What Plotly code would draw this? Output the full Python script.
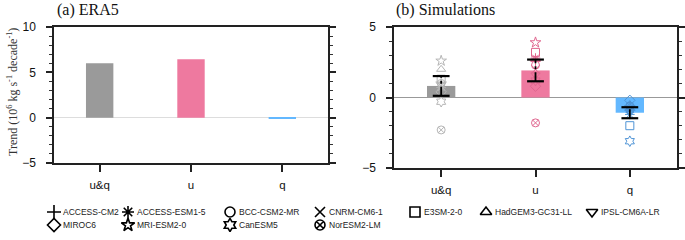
import plotly.graph_objects as go

# ---------------- data ----------------
categories = ["u&q", "u", "q"]
era5_values = [6.0, 6.45, -0.08]
sim_mean = [0.82, 1.92, -1.08]
sim_err = [0.70, 0.77, 0.39]

models = ["ACCESS-CM2", "ACCESS-ESM1-5", "BCC-CSM2-MR", "CNRM-CM6-1", "E3SM-2-0",
          "HadGEM3-GC31-LL", "IPSL-CM6A-LR", "MIROC6", "MRI-ESM2-0", "CanESM5", "NorESM2-LM"]
model_uq = [1.1, 0.7, 1.0, 0.8, 1.3, 2.0, 0.9, 0.4, 2.6, -0.3, -2.3]
model_u = [2.6, 2.8, 2.3, 2.0, 3.2, 2.7, 1.6, 0.8, 3.9, 1.2, -1.8]
model_q = [-0.9, -1.2, -0.6, -0.8, -2.0, -0.5, -1.0, -0.2, -0.7, -3.1, -0.9]

symbols = ["cross-thin-open", "asterisk-open", "circle-open", "x-thin-open", "square-open",
           "triangle-up-open", "triangle-down-open", "diamond-open", "star-open",
           "hexagram-open", "circle-x-open"]

bar_colors = ["#9a9a9a", "#EE799F", "#63B8FF"]
marker_colors = ["#b5b5b5", "#E0668F", "#4F94D6"]

W, H = 685, 240
SANS = "Liberation Sans, Arial, sans-serif"
SERIF = "Liberation Serif, Times New Roman, serif"

fig = go.Figure()

# ---- panel a ----
fig.add_trace(go.Bar(x=categories, y=era5_values, width=0.3,
                     marker=dict(color=bar_colors, line=dict(width=0)),
                     xaxis="x", yaxis="y"))

# ---- panel b ----
fig.add_trace(go.Bar(x=categories, y=sim_mean, width=0.3,
                     marker=dict(color=bar_colors, line=dict(width=0)),
                     xaxis="x2", yaxis="y2"))
model_sets = [model_uq, model_u, model_q]
for i, m in enumerate(models):
    fig.add_trace(go.Scatter(
        x=categories, y=[model_sets[k][i] for k in range(3)], mode="markers",
        marker=dict(symbol=symbols[i], size=8, color=marker_colors,
                    line=dict(color=marker_colors, width=1)),
        xaxis="x2", yaxis="y2"))

# spread whiskers: dash-dot vertical line + caps
wx, wy = [], []
for c, m, e in zip(categories, sim_mean, sim_err):
    wx += [c, c, None]
    wy += [m - e, m + e, None]
fig.add_trace(go.Scatter(x=wx, y=wy, mode="lines",
                         line=dict(color="black", width=1.8, dash="dashdot"),
                         xaxis="x2", yaxis="y2"))
fig.add_trace(go.Scatter(
    x=categories + categories,
    y=[m - e for m, e in zip(sim_mean, sim_err)] + [m + e for m, e in zip(sim_mean, sim_err)],
    mode="markers",
    marker=dict(symbol="line-ew", size=12, line=dict(color="black", width=2.2)),
    xaxis="x2", yaxis="y2"))

# ---- legend (manual grid) ----
leg_cols = [54, 128, 230, 320, 415, 486, 592]
leg_rows = [212, 225]
for i, m in enumerate(models):
    r, c = divmod(i, 7)
    fig.add_trace(go.Scatter(
        x=[leg_cols[c]], y=[leg_rows[r]], mode="markers",
        marker=dict(symbol=symbols[i], size=10, color="black",
                    line=dict(color="black", width=1.6)),
        xaxis="x3", yaxis="y3"))
    fig.add_annotation(x=leg_cols[c] + 7, y=leg_rows[r], xref="x3", yref="y3",
                       text=m, showarrow=False, xanchor="left", yanchor="middle",
                       font=dict(family=SANS, size=8.5, color="#222"))

def px_x(a, b):
    return [a / W, b / W]

def px_y(top, bottom):
    return [1 - bottom / H, 1 - top / H]

yax_common = dict(showline=True, linecolor="#222", linewidth=1.5, mirror="ticks",
                  ticks="outside", ticklen=6, tickwidth=1.5, tickcolor="#222",
                  ticklabelstandoff=8, automargin=False,
                  minor=dict(dtick=1, ticks="outside", ticklen=3, tickwidth=1, tickcolor="#333"),
                  showgrid=False, zeroline=True, zerolinewidth=1,
                  tickfont=dict(family=SANS, size=12, color="#111"))
xax_common = dict(showline=True, linecolor="#222", linewidth=1.5, mirror=True,
                  ticks="outside", ticklen=7, tickwidth=1.5, tickcolor="#222",
                  range=[-0.5, 2.5], showgrid=False, type="category",
                  ticklabelstandoff=3, automargin=False,
                  tickfont=dict(family=SANS, size=11.5, color="#111"))

fig.update_layout(
    width=W, height=H, margin=dict(l=0, r=0, t=0, b=0, pad=0),
    paper_bgcolor="white", plot_bgcolor="rgba(0,0,0,0)", showlegend=False,
    hovermode=False,
    xaxis=dict(domain=px_x(54, 328), anchor="y", **xax_common),
    yaxis=dict(domain=px_y(27, 163), anchor="x", range=[-5, 10],
               tickvals=[-5, 0, 5, 10], zerolinecolor="#dddddd", **yax_common),
    xaxis2=dict(domain=px_x(394, 677), anchor="y2", **xax_common),
    yaxis2=dict(domain=px_y(27, 168), anchor="x2", range=[-5, 5],
                tickvals=[-5, 0, 5], zerolinecolor="#999999", **yax_common),
    xaxis3=dict(domain=[0, 1], range=[0, W], visible=False, anchor="y3", automargin=False),
    yaxis3=dict(domain=[0, 1], range=[H, 0], visible=False, anchor="x3", automargin=False),
)

fig.add_annotation(x=55 / W, y=1 - 10 / H, xref="paper", yref="paper",
                   text="(a) ERA5", showarrow=False, xanchor="left", yanchor="middle",
                   font=dict(family=SERIF, size=16, color="#111"))
fig.add_annotation(x=394 / W, y=1 - 10 / H, xref="paper", yref="paper",
                   text="(b) Simulations", showarrow=False, xanchor="left", yanchor="middle",
                   font=dict(family=SERIF, size=16, color="#111"))
fig.add_annotation(x=12 / W, y=1 - 92 / H, xref="paper", yref="paper",
                   text="Trend (10<sup>6</sup> kg s<sup>-1</sup> decade<sup>-1</sup>)",
                   textangle=-90, showarrow=False, xanchor="center", yanchor="middle",
                   font=dict(family=SERIF, size=12, color="#333"))

fig.write_html("out.html", config={"displayModeBar": False},
               post_script="document.body.style.margin='0';document.body.style.padding='0';")
